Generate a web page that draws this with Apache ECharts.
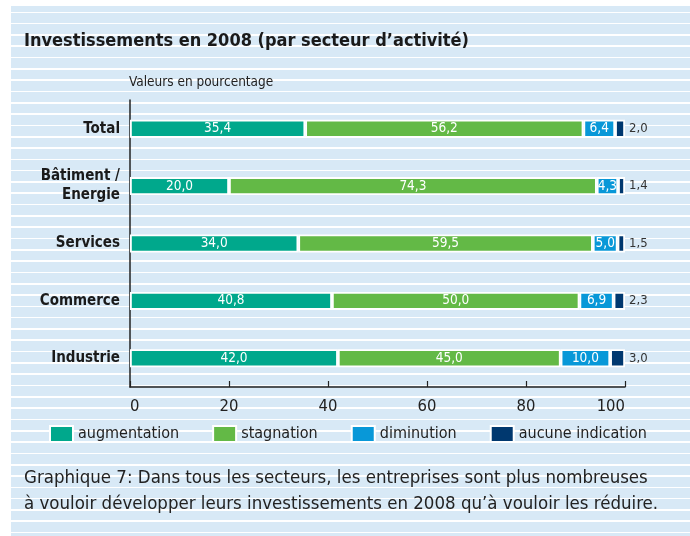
<!DOCTYPE html>
<html>
<head>
<meta charset="utf-8">
<script src="https://cdn.jsdelivr.net/npm/echarts@6/dist/echarts.min.js"></script>
<style>
html, body { margin:0; padding:0; background:#ffffff; }
#bg { position:absolute; left:11px; top:6px; width:679px; height:530px;
  background: repeating-linear-gradient(to bottom,
    #d8e9f6 0px, #d8e9f6 5.5px, #ffffff 5.5px, #ffffff 7.1px, #d8e9f6 7.1px, #d8e9f6 11.31px); }
#chart { position:absolute; left:0; top:0; width:690px; height:536px; }
</style>
</head>
<body>
<div id="bg"></div>
<div id="chart"></div>
<script>
const categories = ['Total', 'Bâtiment /\nEnergie', 'Services', 'Commerce', 'Industrie'];
const augmentation = [35.4, 20.0, 34.0, 40.8, 42.0];
const stagnation = [56.2, 74.3, 59.5, 50.0, 45.0];
const diminution = [6.4, 4.3, 5.0, 6.9, 10.0];
const aucuneIndication = [2.0, 1.4, 1.5, 2.3, 3.0];
const xTicks = [0, 20, 40, 60, 80, 100];

const FONT = '"DejaVu Sans Condensed", "Liberation Sans", sans-serif';
const fmt = p => p.value.toFixed(1).replace('.', ',');

const chart = echarts.init(document.getElementById('chart'), null, { renderer: 'canvas' });

function barSeries(name, data, color, inside) {
  return {
    name: name, type: 'bar', stack: 'all', data: data, barWidth: 18,
    itemStyle: { color: color, borderColor: '#ffffff', borderWidth: 1.8 },
    label: inside ? {
      show: true, position: 'inside', color: '#ffffff', fontFamily: FONT, fontSize: 13.5, formatter: fmt
    } : {
      show: true, position: 'right', distance: 4, color: '#333333', fontFamily: FONT, fontSize: 13, formatter: fmt
    },
    emphasis: { disabled: true }
  };
}

chart.setOption({
  animation: false,
  backgroundColor: 'transparent',
  textStyle: { fontFamily: FONT },
  title: [
    { text: 'Investissements en 2008 (par secteur d\u2019activité)', left: 19, top: 27,
      textStyle: { fontFamily: FONT, fontWeight: 'bold', fontSize: 18, color: '#1a1a1a' } },
    { text: 'Valeurs en pourcentage', left: 124, top: 70,
      textStyle: { fontFamily: FONT, fontWeight: 'normal', fontSize: 13.5, color: '#222222' } },
    { text: 'Graphique 7: Dans tous les secteurs, les entreprises sont plus nombreuses\nà vouloir développer leurs investissements en 2008 qu\u2019à vouloir les réduire.',
      left: 19, top: 460,
      textStyle: { fontFamily: FONT, fontWeight: 'normal', fontSize: 18.5, lineHeight: 26, color: '#222222' } }
  ],
  legend: {
    left: 44, top: 420, width: 645, itemWidth: 23, itemHeight: 16, itemGap: 33, icon: 'rect',
    textStyle: { fontFamily: FONT, fontSize: 16, color: '#222222' },
    data: ['augmentation', 'stagnation', 'diminution', 'aucune indication']
  },
  grid: { left: 130, top: 100, width: 495, height: 287, containLabel: false },
  xAxis: {
    type: 'value', min: 0, max: 100, interval: 20,
    axisLine: { show: true, lineStyle: { color: '#222222', width: 1.5 } },
    axisTick: { show: true, inside: true, length: 6, lineStyle: { color: '#222222', width: 1.2 } },
    splitLine: { show: false },
    axisLabel: { fontFamily: FONT, fontSize: 16.5, color: '#222222', margin: 11,
      alignMinLabel: 'left', alignMaxLabel: 'right',
      formatter: v => xTicks.includes(v) ? String(v) : '' }
  },
  yAxis: {
    type: 'category', inverse: true, data: categories,
    axisLine: { show: true, lineStyle: { color: '#222222', width: 1.5 } },
    axisTick: { show: false },
    axisLabel: { fontFamily: FONT, fontWeight: 'bold', fontSize: 15, color: '#1a1a1a', margin: 10,
      align: 'right', lineHeight: 19 }
  },
  series: [
    barSeries('augmentation', augmentation, '#00a88c', true),
    barSeries('stagnation', stagnation, '#63b946', true),
    barSeries('diminution', diminution, '#0898d8', true),
    barSeries('aucune indication', aucuneIndication, '#00386f', false)
  ]
});
</script>
</body>
</html>
